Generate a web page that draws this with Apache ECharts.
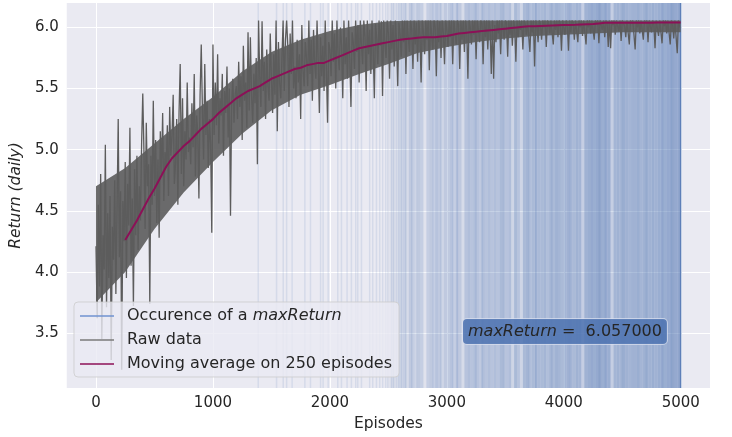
<!DOCTYPE html>
<html>
<head>
<meta charset="utf-8">
<script src="https://cdn.jsdelivr.net/npm/echarts@6/dist/echarts.min.js"></script>
<style>
  html, body { margin: 0; padding: 0; background: #fff; }
  #chart { width: 732px; height: 437px; }
</style>
</head>
<body>
<div id="chart"></div>
<script>
// raw return, one value every 10 episodes (0 .. 4990)
var rawStep = 10;
var rawReturn = [
  4.21, 3.62, 4.55, 3.88, 4.80, 3.45, 4.30, 4.02, 5.04, 3.71, 4.48, 3.95, 4.62, 3.28, 4.37, 4.10, 4.75, 3.82, 4.52, 5.25,
  4.12, 4.66, 3.20, 4.58, 4.25, 4.90, 3.95, 4.72, 4.38, 5.18, 4.05, 4.60, 3.72, 4.84, 4.30, 4.95, 4.18, 4.70, 4.42, 5.05,
  5.46, 4.98, 4.35, 5.22, 4.70, 4.88, 3.74, 4.95, 4.55, 5.40, 4.62, 5.08, 4.40, 4.92, 4.28, 5.15, 4.80, 5.30, 4.58, 4.98,
  4.85, 5.20, 4.62, 5.35, 4.95, 5.12, 5.45, 4.72, 4.88, 5.25, 4.55, 5.30, 5.70, 4.80, 5.42, 4.70, 5.15, 4.92, 5.55, 4.98,
  5.10, 4.88, 5.38, 5.02, 5.62, 4.78, 5.28, 5.15, 4.60, 5.45, 5.86, 5.32, 4.92, 5.70, 5.12, 5.40, 4.85, 5.25, 5.05, 4.32,
  5.86, 5.12, 5.55, 5.20, 5.78, 5.05, 5.42, 5.28, 5.62, 4.95, 5.48, 5.30, 5.68, 5.10, 5.50, 4.46, 5.38, 5.58, 5.22, 5.45,
  5.52, 5.25, 5.72, 5.35, 5.60, 5.08, 5.85, 5.40, 5.55, 5.18, 5.96, 5.32, 5.92, 5.45, 5.22, 5.62, 5.38, 5.75, 4.88, 6.057,
  5.60, 5.35, 6.05, 5.48, 5.72, 5.25, 5.82, 5.52, 5.40, 5.95, 5.58, 5.30, 5.78, 5.45, 6.057, 5.15, 5.88, 5.55, 5.42, 5.75,
  6.057, 5.48, 5.90, 6.057, 5.85, 5.35, 5.95, 5.62, 6.057, 5.50, 5.68, 5.42, 5.90, 5.55, 5.78, 5.25, 6.02, 5.65, 5.52, 5.88,
  5.75, 5.52, 6.057, 5.62, 5.90, 5.40, 5.98, 5.70, 5.58, 6.057, 5.72, 5.30, 5.92, 5.60, 5.85, 5.48, 6.057, 5.66, 5.22, 5.88,
  5.82, 5.60, 6.057, 5.72, 5.95, 5.50, 6.057, 5.78, 5.65, 6.00, 5.85, 5.42, 6.057, 5.70, 5.92, 5.58, 6.057, 5.75, 5.35, 5.96,
  5.88, 5.66, 6.057, 5.80, 6.02, 5.55, 6.057, 5.85, 5.70, 6.057, 5.92, 5.48, 6.057, 5.78, 5.98, 5.62, 6.057, 5.82, 5.42, 6.03,
  5.92, 5.70, 6.057, 5.85, 6.05, 5.44, 6.057, 5.88, 5.75, 6.057, 5.95, 5.58, 6.057, 5.82, 6.02, 5.68, 6.057, 5.90, 5.52, 6.04,
  5.95, 5.76, 6.057, 5.88, 6.057, 5.62, 6.057, 5.92, 5.80, 6.057, 5.98, 5.66, 6.057, 5.86, 6.04, 5.72, 6.057, 5.94, 5.55, 6.057,
  5.96, 5.78, 6.057, 5.90, 6.057, 5.65, 6.057, 5.94, 5.82, 6.057, 6.00, 5.60, 6.057, 5.88, 6.05, 5.75, 6.057, 5.96, 5.70, 6.057,
  5.98, 5.84, 6.057, 5.92, 6.057, 5.70, 6.057, 5.96, 5.86, 6.057, 6.02, 5.66, 6.057, 5.90, 6.057, 5.80, 6.057, 5.98, 5.58, 6.057,
  6.00, 5.86, 6.057, 5.94, 6.057, 5.74, 6.057, 5.98, 5.88, 6.057, 6.03, 5.70, 6.057, 5.92, 6.057, 5.82, 6.057, 5.99, 5.62, 6.057,
  5.58, 6.02, 5.88, 6.057, 5.95, 6.057, 5.78, 6.057, 6.00, 5.90, 6.057, 6.04, 5.76, 6.057, 5.94, 6.057, 5.85, 6.057, 6.01, 5.72,
  6.057, 5.92, 6.057, 5.98, 6.057, 5.82, 6.057, 6.03, 5.94, 6.057, 6.057, 5.80, 6.057, 5.96, 6.057, 5.68, 6.057, 6.02, 5.88, 6.057,
  6.03, 5.90, 6.057, 6.00, 6.057, 5.84, 6.057, 6.04, 5.95, 6.057, 6.057, 5.86, 6.057, 5.98, 6.057, 5.92, 6.057, 6.03, 5.81, 6.057,
  6.057, 5.94, 6.057, 6.02, 5.81, 6.057, 5.96, 6.057, 6.04, 5.90, 6.057, 6.057, 5.88, 6.057, 6.00, 6.057, 5.93, 6.057, 6.05, 5.86,
  6.057, 6.00, 6.057, 5.95, 6.057, 6.057, 5.90, 6.057, 6.03, 6.057, 5.87, 6.057, 6.057, 5.98, 6.057, 5.92, 6.057, 6.04, 5.84, 6.057,
  5.83, 6.057, 6.02, 6.057, 5.94, 6.057, 6.057, 5.97, 6.057, 5.89, 6.057, 6.057, 6.01, 5.92, 6.057, 6.057, 5.86, 6.057, 6.03, 6.057,
  6.057, 5.82, 6.057, 6.00, 6.057, 5.95, 6.057, 6.057, 5.90, 6.057, 6.04, 6.057, 5.88, 6.057, 6.057, 5.96, 6.057, 6.02, 5.83, 6.057,
  6.057, 5.93, 6.057, 6.057, 5.87, 6.057, 6.01, 6.057, 5.95, 6.057, 6.057, 5.86, 6.057, 6.03, 5.91, 6.057, 6.057, 5.79, 6.057, 6.00
];

// dense core of the raw data (where the 5000 episodes overlap), every 250 episodes
var coreEpisodes = [0, 250, 500, 750, 1000, 1250, 1500, 1750, 2000, 2250, 2500,
  2750, 3000, 3250, 3500, 3750, 4000, 4250, 4500, 4750, 4999];
var coreLow = [3.75, 4.00, 4.35, 4.65, 4.90, 5.13, 5.32, 5.45, 5.53, 5.62, 5.70,
  5.79, 5.84, 5.88, 5.91, 5.93, 5.94, 5.95, 5.96, 5.96, 5.96];
var coreHigh = [4.70, 4.85, 5.05, 5.25, 5.43, 5.64, 5.80, 5.90, 5.97, 6.02, 6.05,
  6.057, 6.057, 6.057, 6.057, 6.057, 6.057, 6.057, 6.057, 6.057, 6.057];

// moving average on 250 episodes, every 50 episodes from 250, last point at 4999
var maStart = 250;
var maStep = 50;
var maLast = 4999;
var movingAvg = [
  4.26, 4.34, 4.42, 4.51, 4.60, 4.68, 4.77, 4.86, 4.93, 4.98,
  5.03, 5.07, 5.12, 5.17, 5.21, 5.25, 5.30, 5.34, 5.38, 5.42,
  5.45, 5.48, 5.50, 5.52, 5.55, 5.58, 5.60, 5.62, 5.64, 5.66,
  5.67, 5.69, 5.70, 5.71, 5.71, 5.73, 5.75, 5.77, 5.79, 5.81,
  5.83, 5.84, 5.85, 5.86, 5.87, 5.88, 5.89, 5.90, 5.905, 5.91,
  5.915, 5.92, 5.92, 5.92, 5.925, 5.93, 5.94, 5.95, 5.955, 5.96,
  5.965, 5.97, 5.975, 5.98, 5.985, 5.99, 5.995, 6.00, 6.005, 6.01,
  6.01, 6.012, 6.014, 6.016, 6.018, 6.02, 6.021, 6.022, 6.024, 6.026,
  6.028, 6.033, 6.038, 6.039, 6.039, 6.039, 6.039, 6.039, 6.038, 6.038,
  6.039, 6.04, 6.04, 6.041, 6.041, 6.041
];

// episodes with a maxReturn (readable single lines)
var maxEpisodes = [
  1387, 1544, 1601, 1630, 1677, 1786, 1834, 1920, 1942, 1985,
  2067, 2099, 2147, 2184, 2221, 2238, 2270, 2340, 2366, 2398,
  2426, 2451, 2477, 2494, 2526, 2545, 2568, 2590, 2612,
  2650, 2700, 2745, 2880, 2950, 3050, 3090, 3250, 3300, 3480,
  3700, 3760, 3900, 4050, 4300, 4350, 4500, 4700, 4850, 4920
];
var lastMaxEpisode = 4999;

// where the lines merge: number of maxReturn per 25-episode bin, from 2500
var binStart = 2500;
var binSize = 25;
var maxCounts = [
  1, 2, 1, 2,
  3, 4, 2, 5, 4, 3, 5, 4,
  1, 4, 5, 4, 6, 5, 3, 5,
  5, 6, 4, 6, 5, 2, 6, 7,
  6, 7, 6, 5, 7, 6, 7, 6,
  7, 6, 8, 7, 6, 7, 3, 8,
  6, 3, 8, 9, 7, 8, 9, 8,
  8, 9, 7, 9, 8, 10, 9, 8,
  9, 10, 9, 8, 10, 9, 4, 10,
  11, 12, 11, 12, 13, 11, 12, 11,
  4, 9, 10, 9, 11, 10, 9, 10,
  10, 11, 9, 10, 11, 10, 11, 10,
  11, 12, 11, 12, 12, 13, 12, 13
];
var maxReturn = 6.057;

var yTicks = [3.5, 4.0, 4.5, 5.0, 5.5, 6.0];
var xTicks = [0, 1000, 2000, 3000, 4000, 5000];

var FONT = 'DejaVu Sans';
var TXT = '#262626';
var BLUE = '#4C72B0';
var GREY = '#5c5c5c';
var occName = 'Occurence of a maxReturn';

var chart = echarts.init(document.getElementById('chart'), null, { renderer: 'canvas' });

function vline(opacity) {
  return function (params, api) {
    var x = api.coord([api.value(0), 0])[0];
    var cs = params.coordSys;
    return {
      type: 'rect',
      shape: { x: x - 0.75, y: cs.y, width: 1.5, height: cs.height },
      style: { fill: BLUE, opacity: opacity }
    };
  };
}

var option = {
  animation: false,
  backgroundColor: '#ffffff',
  textStyle: { fontFamily: FONT },
  grid: {
    left: 66, right: 22, top: 3, bottom: 49,
    show: true, backgroundColor: '#EAEAF2', borderWidth: 0
  },
  xAxis: {
    type: 'value',
    min: -250, max: 5250,
    name: 'Episodes',
    nameLocation: 'middle',
    nameGap: 22,
    nameTextStyle: { fontFamily: FONT, fontSize: 15.5, color: TXT },
    axisLine: { show: false },
    axisTick: { show: false, customValues: xTicks },
    axisLabel: {
      customValues: xTicks, fontFamily: FONT, fontSize: 15, color: TXT, margin: 8,
      formatter: function (v) { return String(v); }
    },
    splitLine: { show: true, lineStyle: { color: '#ffffff', width: 1 } }
  },
  yAxis: {
    type: 'value',
    min: 3.05, max: 6.2,
    name: 'Return (daily)',
    nameLocation: 'middle',
    nameGap: 29,
    nameTextStyle: { fontFamily: FONT, fontSize: 15.5, color: TXT, fontStyle: 'italic' },
    axisLine: { show: false },
    axisTick: { show: false, customValues: yTicks },
    axisLabel: {
      customValues: yTicks, fontFamily: FONT, fontSize: 15, color: TXT, margin: 8,
      formatter: function (v) { return v.toFixed(1); }
    },
    splitLine: { show: true, lineStyle: { color: '#ffffff', width: 1 } }
  },
  legend: {
    orient: 'vertical',
    left: 74, top: 302,
    padding: [6, 7, 5, 6],
    itemWidth: 34, itemHeight: 1.5,
    itemGap: 8,
    backgroundColor: 'rgba(234,234,242,0.8)',
    borderColor: 'rgba(204,204,204,0.8)',
    borderWidth: 1,
    borderRadius: 4,
    selectedMode: false,
    data: [
      { name: occName, icon: 'rect', itemStyle: { color: '#6f92d0' } },
      { name: 'Raw data', icon: 'rect', itemStyle: { color: '#7a7a7a' } },
      { name: 'Moving average on 250 episodes', icon: 'rect', itemStyle: { color: '#8c1057' } }
    ],
    formatter: function (name) {
      return name === occName ? 'Occurence of a {i|maxReturn}' : name;
    },
    textStyle: {
      fontFamily: FONT, fontSize: 16, color: TXT, lineHeight: 16,
      padding: [0, 0, 0, 8],
      rich: { i: { fontFamily: FONT, fontSize: 16, color: TXT, fontStyle: 'italic' } }
    }
  },
  graphic: [{
    type: 'text',
    left: 462, top: 318,
    z: 100,
    style: {
      text: '{i|maxReturn}{n| =  ' + maxReturn.toFixed(6) + '}',
      rich: {
        i: { fontFamily: FONT, fontSize: 16, fill: TXT, fontStyle: 'italic', lineHeight: 17 },
        n: { fontFamily: FONT, fontSize: 16, fill: TXT, lineHeight: 17 }
      },
      backgroundColor: 'rgba(76,114,176,0.85)',
      borderColor: 'rgba(220,225,240,0.7)',
      borderWidth: 1,
      borderRadius: 4,
      padding: [4, 5, 4, 5]
    }
  }],
  series: [
    {
      name: occName,
      type: 'custom',
      color: BLUE,
      encode: { x: 0 },
      renderItem: function (params, api) {
        var x0 = api.coord([api.value(0), 0])[0];
        var x1 = api.coord([api.value(0) + binSize, 0])[0];
        var cs = params.coordSys;
        return {
          type: 'rect',
          shape: { x: x0, y: cs.y, width: x1 - x0, height: cs.height },
          style: { fill: BLUE, opacity: 1 - Math.pow(0.88, api.value(1) * 0.5) }
        };
      },
      data: maxCounts.map(function (c, i) { return [binStart + i * binSize, c]; }),
      z: 1
    },
    {
      name: occName,
      type: 'custom',
      color: BLUE,
      encode: { x: 0 },
      renderItem: vline(0.13),
      data: maxEpisodes.map(function (e) { return [e]; }),
      z: 1
    },
    {
      name: occName,
      type: 'custom',
      color: BLUE,
      encode: { x: 0 },
      renderItem: vline(0.8),
      data: [[lastMaxEpisode]],
      z: 1
    },
    {
      name: 'Raw data',
      type: 'custom',
      color: GREY,
      encode: { x: 0, y: 1 },
      renderItem: function (params, api) {
        if (params.dataIndex !== 0) return;
        var pts = [];
        coreEpisodes.forEach(function (e, i) { pts.push(api.coord([e, coreHigh[i]])); });
        for (var i = coreEpisodes.length - 1; i >= 0; i--) {
          pts.push(api.coord([coreEpisodes[i], coreLow[i]]));
        }
        return {
          type: 'polygon',
          shape: { points: pts },
          style: { fill: GREY, opacity: 0.9 }
        };
      },
      data: coreEpisodes.map(function (e, i) { return [e, coreLow[i]]; }),
      z: 2
    },
    {
      name: 'Raw data',
      type: 'line',
      showSymbol: false,
      symbol: 'none',
      lineStyle: { color: GREY, width: 1.3, join: 'bevel' },
      itemStyle: { color: GREY },
      data: rawReturn.map(function (v, i) { return [i * rawStep, v]; }),
      z: 2
    },
    {
      name: 'Moving average on 250 episodes',
      type: 'line',
      showSymbol: false,
      symbol: 'none',
      lineStyle: { color: '#8c1057', width: 2 },
      itemStyle: { color: '#8c1057' },
      data: movingAvg.map(function (v, i) {
        return [Math.min(maStart + i * maStep, maLast), v];
      }),
      z: 3
    }
  ]
};

chart.setOption(option);
</script>
</body>
</html>
